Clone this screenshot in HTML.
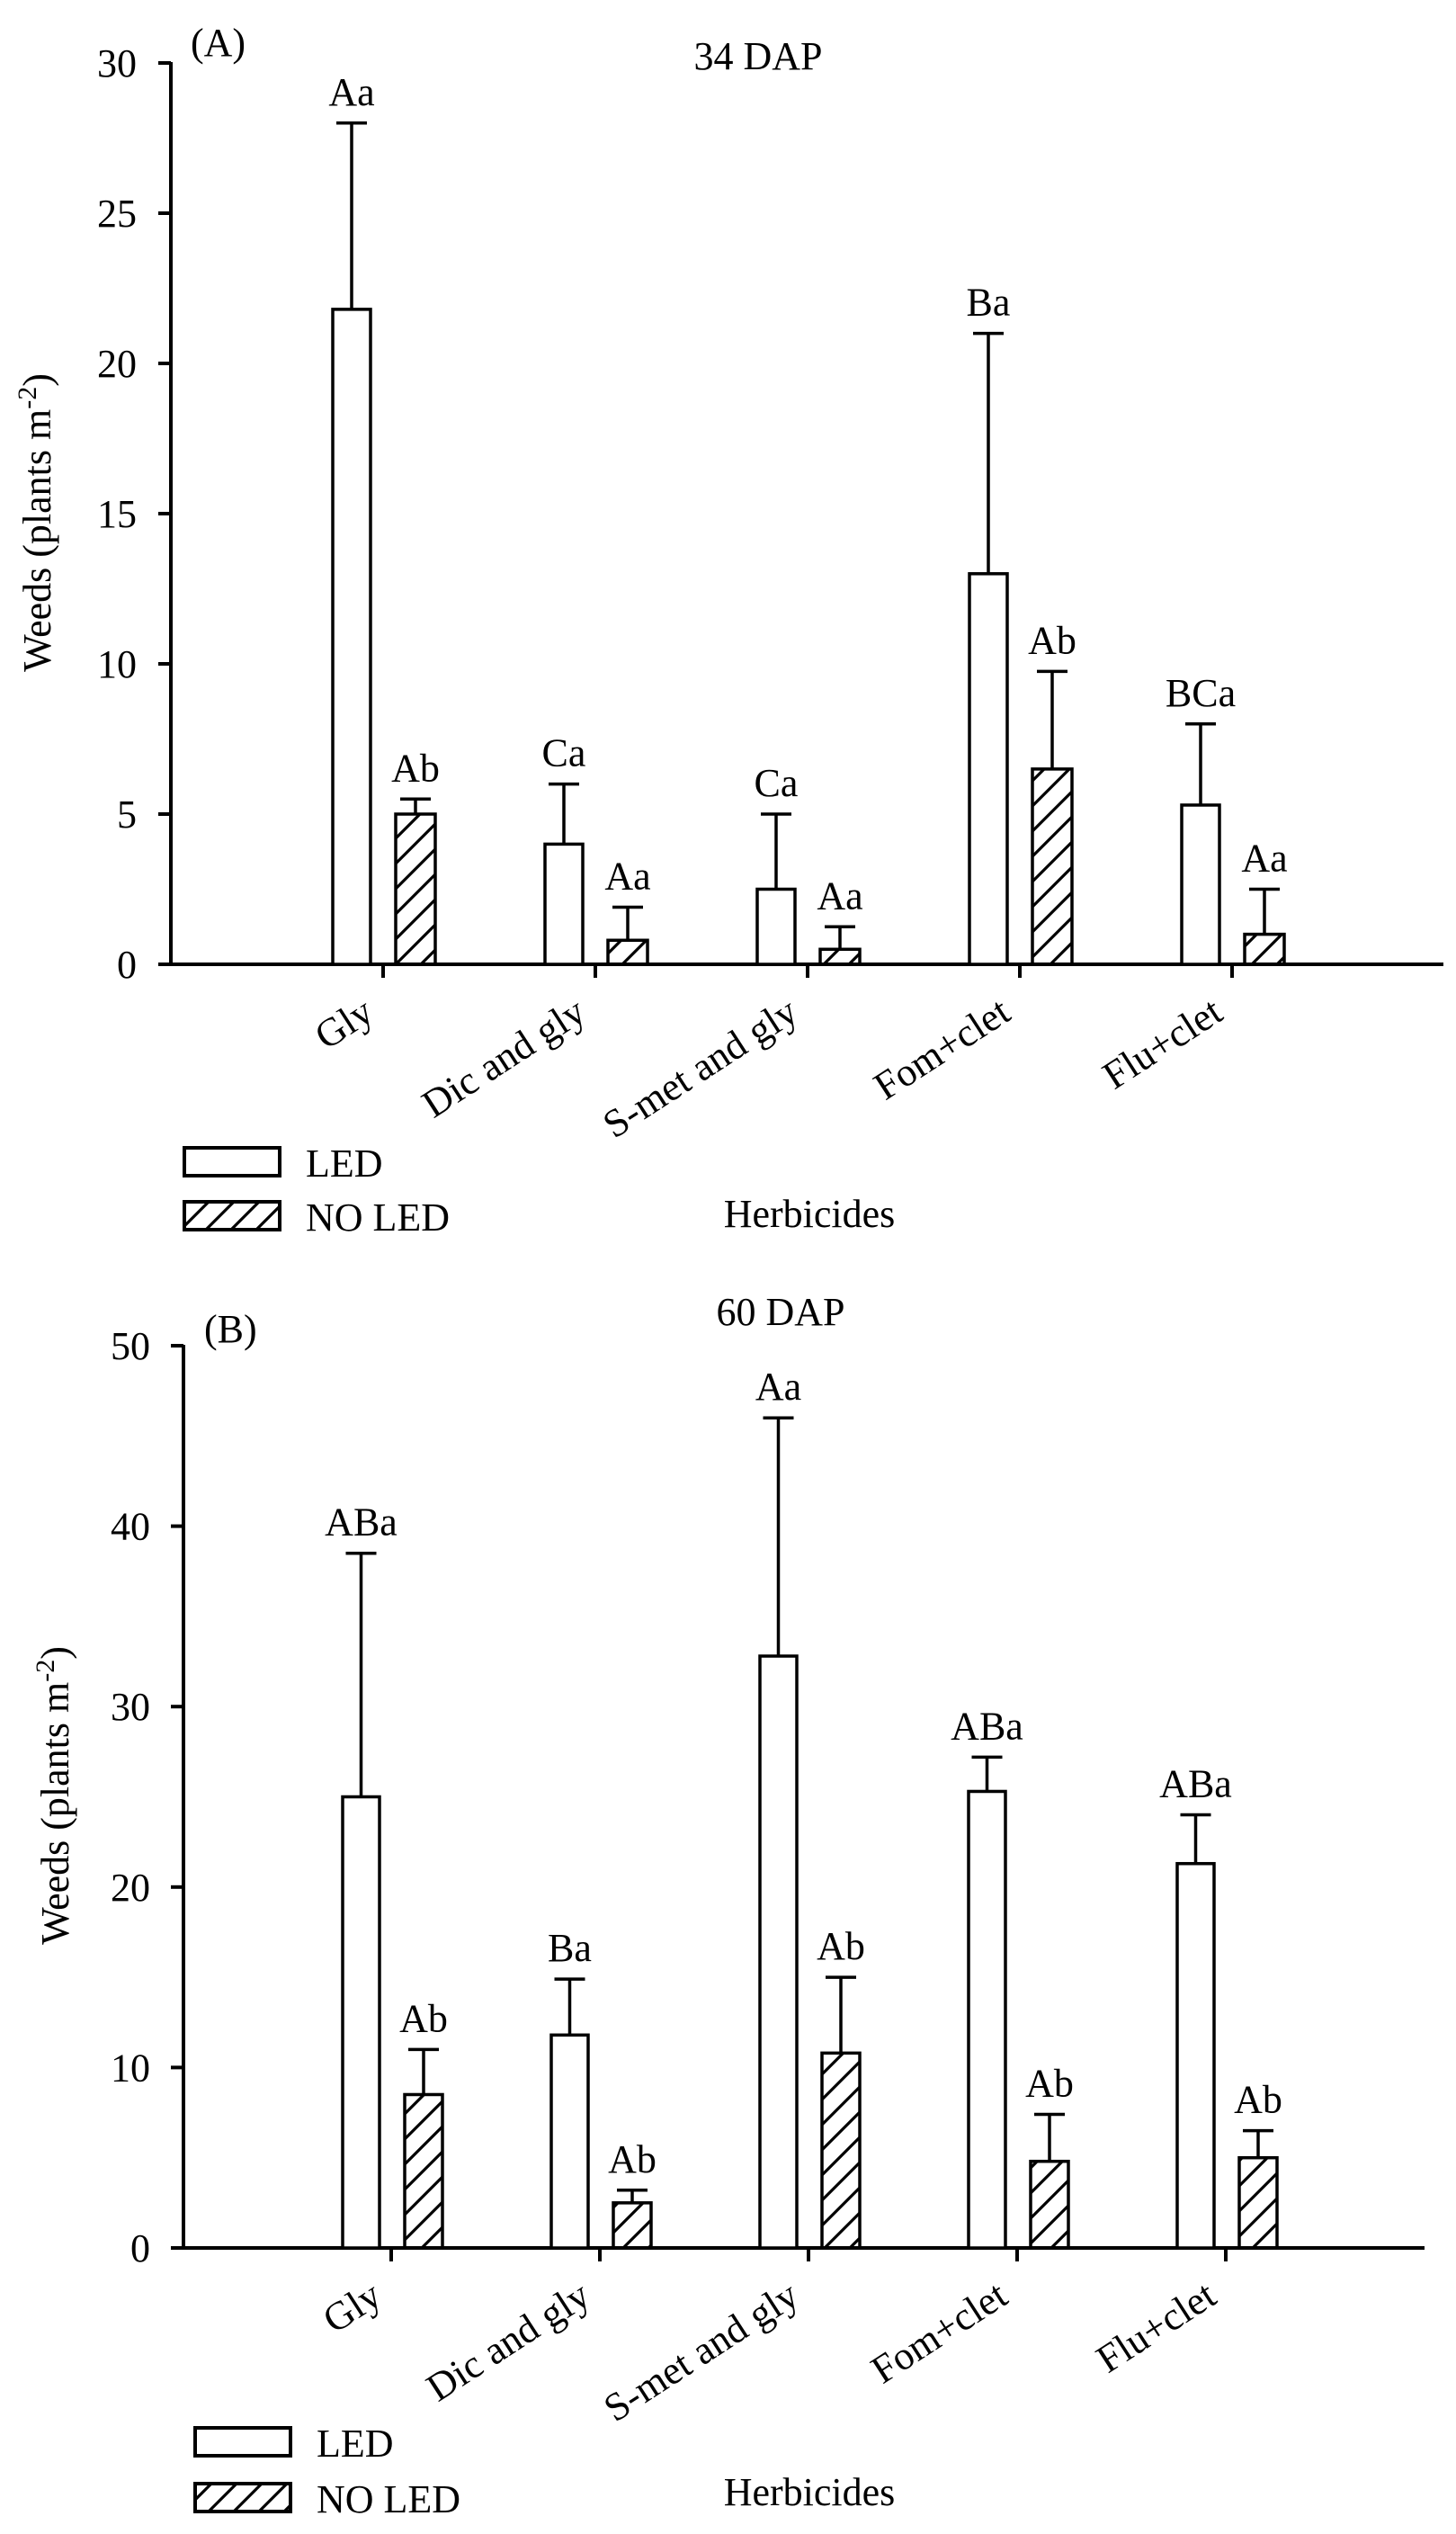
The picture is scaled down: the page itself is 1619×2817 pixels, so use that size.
<!DOCTYPE html>
<html><head><meta charset="utf-8"><style>
html,body{margin:0;padding:0;background:#fff;}
svg text{font-family:"Liberation Serif",serif;fill:#000;}
</style></head><body>
<svg id="s" xmlns="http://www.w3.org/2000/svg" width="1619" height="2812" viewBox="0 0 1619 2812">
<defs>
<pattern id="h" patternUnits="userSpaceOnUse" width="28" height="28">
<path d="M0,28 L28,0 M-7,7 L7,-7 M21,35 L35,21" stroke="#000" stroke-width="3.2"/>
</pattern>
</defs>
<rect width="1619" height="2812" fill="#fff"/>
</svg>
<script>
const s=document.getElementById('s');const NS='http://www.w3.org/2000/svg';
function el(t,a,txt){const e=document.createElementNS(NS,t);for(const k in a)e.setAttribute(k,a[k]);if(txt!==undefined)e.textContent=txt;s.appendChild(e);return e;}
const cats=["Gly","Dic and gly","S-met and gly","Fom+clet","Flu+clet"];
function panel(P){
  const y=v=>P.y0-v*P.sc;
  el('line',{x1:P.ax,y1:y(P.max)-1,x2:P.ax,y2:P.y0+2,stroke:'#000','stroke-width':4});
  el('line',{x1:P.ax-14,y1:P.y0,x2:P.xend,y2:P.y0,stroke:'#000','stroke-width':4});
  for(let v=0;v<=P.max;v+=P.step){
    el('line',{x1:P.ax-14,y1:y(v),x2:P.ax,y2:y(v),stroke:'#000','stroke-width':4});
    el('text',{x:P.tlx,y:y(v)+15,'font-size':44,'text-anchor':'end'},String(v));
  }
  P.data.forEach((d,i)=>{
    const c=P.c0+P.sp*i;
    el('line',{x1:c,y1:P.y0,x2:c,y2:P.y0+15,stroke:'#000','stroke-width':4});
    el('text',{x:c-8,y:P.y0+60,'font-size':44,'text-anchor':'end',transform:`rotate(-33 ${c-8} ${P.y0+60})`},cats[i]);
    [[P.l0,P.l1,'#fff',d[0],d[1],d[2]],[P.n0,P.n1,'url(#h)',d[3],d[4],d[5]]].forEach(b=>{
      const x0=c+b[0],x1=c+b[1],cx=(x0+x1)/2;
      el('line',{x1:cx,y1:y(b[3]),x2:cx,y2:y(b[4]),stroke:'#000','stroke-width':3.5});
      el('line',{x1:cx-17,y1:y(b[4]),x2:cx+17,y2:y(b[4]),stroke:'#000','stroke-width':3.5});
      el('rect',{x:x0,y:y(b[3]),width:x1-x0,height:P.y0-y(b[3]),fill:b[2],stroke:'#000','stroke-width':3.5});
      el('text',{x:cx,y:y(b[4])-20,'font-size':44,'text-anchor':'middle'},b[5]);
    });
  });
  const t=el('text',{x:P.ylx,y:P.ylc,'font-size':44,'text-anchor':'middle',transform:`rotate(-90 ${P.ylx} ${P.ylc})`},'Weeds (plants m');
  const sp=document.createElementNS(NS,'tspan');sp.setAttribute('font-size','30');sp.setAttribute('dy','-16');sp.textContent='-2';t.appendChild(sp);
  const sp2=document.createElementNS(NS,'tspan');sp2.setAttribute('dy','16');sp2.textContent=')';t.appendChild(sp2);
  el('text',{x:P.lbx,y:P.lby,'font-size':44},P.lab);
  el('text',{x:P.tx,y:P.ty,'font-size':44,'text-anchor':'middle'},P.title);
  el('rect',{x:P.lgx,y:P.lg1,width:106,height:31,fill:'#fff',stroke:'#000','stroke-width':4});
  el('rect',{x:P.lgx,y:P.lg2,width:106,height:31,fill:'url(#h)',stroke:'#000','stroke-width':4});
  el('text',{x:P.lgx+135,y:P.lg1+32,'font-size':44},'LED');
  el('text',{x:P.lgx+135,y:P.lg2+32,'font-size':44},'NO LED');
  el('text',{x:P.hx,y:P.hy,'font-size':44,'text-anchor':'middle'},'Herbicides');
}
panel({y0:1072,sc:33.4,max:30,step:5,ax:190,xend:1605,tlx:152,c0:426,sp:236,l0:-56,l1:-14,n0:14,n1:58,
 ylx:56,ylc:581,lbx:212,lby:62,lab:'(A)',title:'34 DAP',tx:843,ty:77,lgx:205,lg1:1276,lg2:1336,hx:900,hy:1364,
 data:[[21.8,28,'Aa',5,5.5,'Ab'],[4,6,'Ca',0.8,1.9,'Aa'],[2.5,5,'Ca',0.5,1.25,'Aa'],[13,21,'Ba',6.5,9.75,'Ab'],[5.3,8,'BCa',1,2.5,'Aa']]});
panel({y0:2499,sc:20.06,max:50,step:10,ax:204,xend:1584,tlx:167,c0:435,sp:232,l0:-54,l1:-13,n0:15,n1:57,
 ylx:76,ylc:1996,lbx:227,lby:1492,lab:'(B)',title:'60 DAP',tx:868,ty:1473,lgx:217,lg1:2699,lg2:2761,hx:900,hy:2785,
 data:[[25,38.5,'ABa',8.5,11,'Ab'],[11.8,14.9,'Ba',2.5,3.2,'Ab'],[32.8,46,'Aa',10.8,15,'Ab'],[25.3,27.2,'ABa',4.8,7.4,'Ab'],[21.3,24,'ABa',5,6.5,'Ab']]});
</script>
</body></html>
